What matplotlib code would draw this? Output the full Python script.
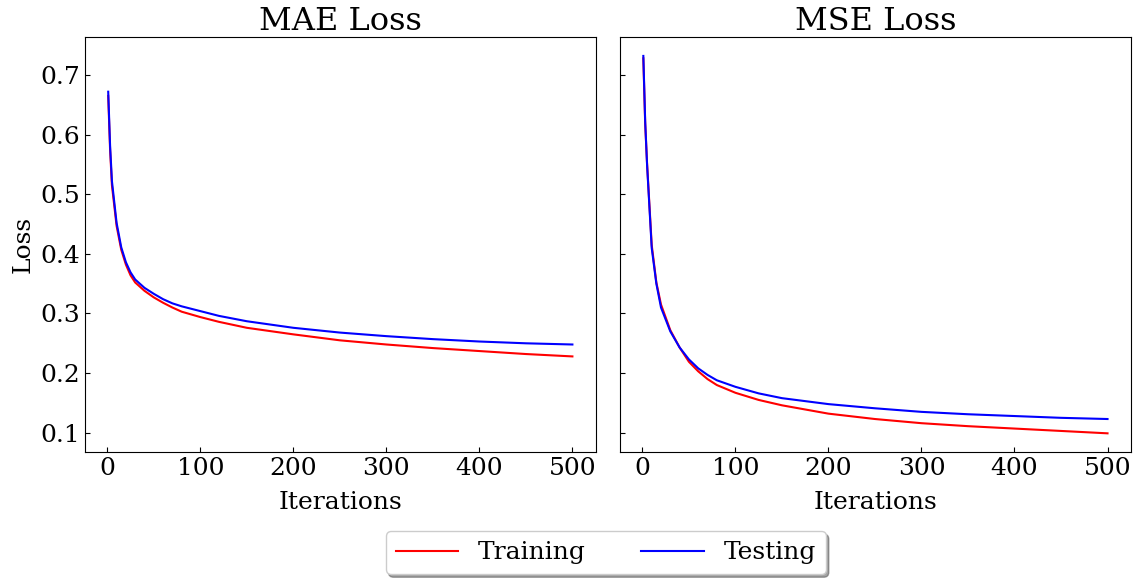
import matplotlib
matplotlib.use("Agg")
import matplotlib.pyplot as plt

plt.rcParams['font.family'] = 'DejaVu Serif'

mae_iter = [1, 3, 5, 10, 15, 20, 25, 30, 40, 50, 60, 70, 80, 100, 120, 150, 200, 250, 300, 350, 400, 450, 500]
mae_train = [0.665, 0.575, 0.515, 0.447, 0.407, 0.382, 0.364, 0.352, 0.338, 0.327, 0.318, 0.310, 0.303, 0.294, 0.286, 0.276, 0.265, 0.255, 0.248, 0.242, 0.237, 0.232, 0.228]
mae_test = [0.672, 0.582, 0.522, 0.452, 0.411, 0.386, 0.369, 0.357, 0.343, 0.333, 0.324, 0.317, 0.312, 0.304, 0.296, 0.287, 0.276, 0.268, 0.262, 0.257, 0.253, 0.250, 0.248]

mse_iter = [1, 3, 5, 10, 15, 20, 30, 40, 50, 60, 70, 80, 100, 125, 150, 200, 250, 300, 350, 400, 450, 500]
mse_train = [0.728, 0.618, 0.552, 0.415, 0.352, 0.315, 0.272, 0.243, 0.219, 0.203, 0.190, 0.180, 0.167, 0.155, 0.146, 0.132, 0.123, 0.116, 0.111, 0.107, 0.103, 0.099]
mse_test = [0.732, 0.622, 0.550, 0.410, 0.350, 0.310, 0.270, 0.243, 0.223, 0.208, 0.197, 0.188, 0.177, 0.166, 0.158, 0.148, 0.141, 0.135, 0.131, 0.128, 0.125, 0.123]

fig, (ax1, ax2) = plt.subplots(1, 2, sharey=True, figsize=(11.41, 5.79), dpi=100)
fig.subplots_adjust(left=0.0745, right=0.991, top=0.936, bottom=0.219, wspace=0.048)

ax1.plot(mae_iter, mae_train, 'r-', lw=1.5, label='Training')
ax1.plot(mae_iter, mae_test, 'b-', lw=1.5, label='Testing')
ax2.plot(mse_iter, mse_train, 'r-', lw=1.5)
ax2.plot(mse_iter, mse_test, 'b-', lw=1.5)

ax1.set_title('MAE Loss', fontsize=23, pad=4)
ax2.set_title('MSE Loss', fontsize=23, pad=4)
ax1.set_ylabel('Loss', fontsize=18, labelpad=4)
for ax in (ax1, ax2):
    ax.set_xlabel('Iterations', fontsize=18, labelpad=8)
    ax.tick_params(direction='in', labelsize=18)
    ax.set_xticks([0, 100, 200, 300, 400, 500])
ax1.set_yticks([0.1, 0.2, 0.3, 0.4, 0.5, 0.6, 0.7])

fig.legend(loc='center', bbox_to_anchor=(0.531, 0.045), ncol=2, fontsize=18,
           shadow=True, fancybox=True, columnspacing=2.2, handlelength=2.5)

plt.savefig('out.png', dpi=100)
